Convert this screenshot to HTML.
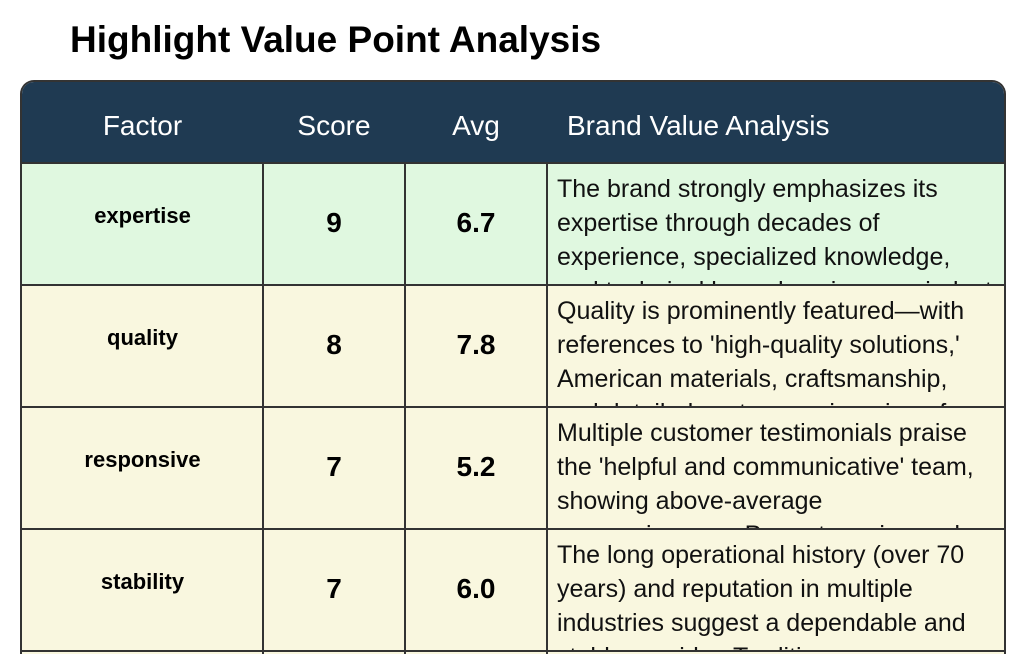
<!DOCTYPE html>
<html><head><meta charset="utf-8"><style>
body{margin:0;width:1034px;height:654px;overflow:hidden;background:#fff;font-family:"Liberation Sans",sans-serif;position:relative}
.t{position:absolute;left:70px;top:19px;font-size:37px;font-weight:bold;color:#000}
.tbl{position:absolute;left:20px;top:80px;width:986px;height:574px;border:2px solid #333;border-bottom:none;border-radius:14px 14px 0 0;overflow:hidden;box-sizing:border-box}
.hdr{position:absolute;left:0;top:0;width:986px;height:82px;background:#1f3a52}
.h{position:absolute;top:0;height:82px;line-height:88px;color:#fff;font-size:28px;text-align:center}
.row{position:absolute;left:0;width:986px;height:122px;border-top:2px solid #333;box-sizing:border-box}
.vl{position:absolute;top:0;width:2px;height:600px;background:#333}
.f{position:absolute;left:0;width:241px;text-align:center;font-weight:bold;font-size:22px;top:39px}
.s{position:absolute;width:142px;text-align:center;font-weight:bold;font-size:28px;top:43px}
.d{position:absolute;left:535px;top:8px;width:445px;height:113px;overflow:hidden;font-size:25px;line-height:34px;white-space:nowrap;color:#111}
</style></head><body>
<div class="t">Highlight Value Point Analysis</div>
<div class="tbl">
<div class="hdr">
<div class="h" style="left:0;width:241px">Factor</div>
<div class="h" style="left:241px;width:142px">Score</div>
<div class="h" style="left:383px;width:142px">Avg</div>
<div class="h" style="left:545px;text-align:left">Brand Value Analysis</div>
</div>
<div class="row" style="top:80px;background:#e0f8e0">
<div class="f">expertise</div><div class="s" style="left:241px">9</div><div class="s" style="left:383px">6.7</div>
<div class="d">The brand strongly emphasizes its<br>expertise through decades of<br>experience, specialized knowledge,<br>and technical know-how in cross-industry</div></div>
<div class="row" style="top:202px;background:#f9f7df">
<div class="f">quality</div><div class="s" style="left:241px">8</div><div class="s" style="left:383px">7.8</div>
<div class="d">Quality is prominently featured—with<br>references to 'high-quality solutions,'<br>American materials, craftsmanship,<br>and detailed custom engineering of</div></div>
<div class="row" style="top:324px;background:#f9f7df">
<div class="f">responsive</div><div class="s" style="left:241px">7</div><div class="s" style="left:383px">5.2</div>
<div class="d">Multiple customer testimonials praise<br>the 'helpful and communicative' team,<br>showing above-average<br>responsiveness. Prompt service and</div></div>
<div class="row" style="top:446px;background:#f9f7df">
<div class="f">stability</div><div class="s" style="left:241px">7</div><div class="s" style="left:383px">6.0</div>
<div class="d">The long operational history (over 70<br>years) and reputation in multiple<br>industries suggest a dependable and<br>stable provider. Traditions</div></div>
<div class="row" style="top:568px;background:#f9f7df"></div>
<div class="vl" style="left:240px;top:80px"></div>
<div class="vl" style="left:382px;top:80px"></div>
<div class="vl" style="left:524px;top:80px"></div>
</div>
</body></html>
